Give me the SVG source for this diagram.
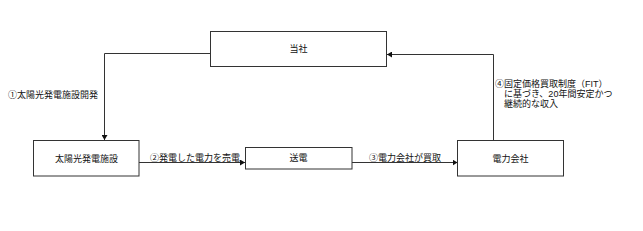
<svg xmlns="http://www.w3.org/2000/svg" width="643" height="231" viewBox="0 0 643 231">
<defs>
<style>
.box{fill:#fff;stroke:#333;stroke-width:1}
.t{font-family:"Liberation Sans","Noto Sans CJK JP",sans-serif;font-size:9px;fill:#111}
.c{text-anchor:middle}
.ln{fill:none;stroke:#333;stroke-width:1}
</style>
<marker id="ah" markerWidth="6" markerHeight="6" refX="5" refY="3" orient="auto" markerUnits="userSpaceOnUse">
<path d="M0,0 L5,3 L0,6 Z" fill="#111"/>
</marker>
</defs>
<rect width="643" height="231" fill="#fff"/>
<g id="connectors">
<polyline class="ln" points="210,53.5 104.5,53.5 104.5,140" marker-end="url(#ah)"/>
<line class="ln" x1="139" y1="162.5" x2="245" y2="162.5" marker-end="url(#ah)"/>
<line class="ln" x1="352" y1="162.5" x2="457.5" y2="162.5" marker-end="url(#ah)"/>
<polyline class="ln" points="493.5,140 493.5,54.5 387,54.5" marker-end="url(#ah)"/>
<text class="t" x="8" y="98">①太陽光発電施設開発</text>
<text class="t" x="150" y="161">②発電した電力を売電</text>
<text class="t" x="369" y="161">③電力会社が買取</text>
<text class="t" x="495" y="87">④固定価格買取制度（FIT）</text>
<text class="t" x="504" y="97">に基づき、20年間安定かつ</text>
<text class="t" x="504" y="107">継続的な収入</text>
</g>
<g id="touhsha">
<rect class="box" x="210.5" y="31.5" width="176" height="35"/>
<text class="t c" x="298.5" y="52">当社</text>
</g>
<g id="taiyoukou">
<rect class="box" x="33.5" y="140.5" width="105.5" height="35.5"/>
<text class="t c" x="86.5" y="162">太陽光発電施設</text>
</g>
<g id="souden">
<rect class="box" x="245.5" y="147.5" width="106.5" height="21.5"/>
<text class="t c" x="298.5" y="161">送電</text>
</g>
<g id="denryoku">
<rect class="box" x="457.5" y="140.5" width="106" height="35.5"/>
<text class="t c" x="510.5" y="162">電力会社</text>
</g>
</svg>
